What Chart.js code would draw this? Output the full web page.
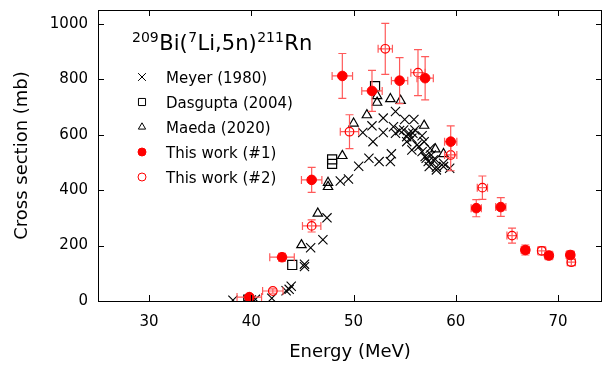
<!DOCTYPE html>
<html>
<head>
<meta charset="utf-8">
<script src="https://cdn.jsdelivr.net/npm/chart.js@4/dist/chart.umd.min.js"></script>
<style>
  html, body { margin: 0; padding: 0; background: #fff; }
</style>
</head>
<body>
<canvas id="chart" width="603" height="365"></canvas>
<script>
// Meyer (1980)
const meyerE = [38.2, 40.0, 40.4, 42.0, 43.4, 43.7, 43.9, 45.2, 45.2, 45.8, 47.0, 47.4, 48.7, 49.5,
  50.5, 51.5, 52.5, 53.6, 53.7, 50.9, 51.9, 51.8, 52.9, 52.9, 54.1, 53.9, 54.1, 54.5, 55.0, 55.9,
  55.2, 54.9, 55.4, 56.0, 55.7, 55.2, 55.8, 56.2, 55.7, 56.7, 56.4, 56.9, 56.7, 57.0, 57.6, 57.3,
  57.8, 57.1, 57.5, 58.1, 58.0, 58.8, 57.4, 58.1, 58.8, 59.4];
const meyerXS = [3, 4, 6, 10, 37, 42, 53, 133, 124, 192, 221, 300, 433, 440,
  486, 515, 503, 503, 531, 608, 575, 632, 608, 660, 684, 629, 605, 615, 655, 655,
  593, 617, 605, 617, 587, 575, 605, 563, 545, 539, 557, 575, 596, 521, 527, 503,
  509, 515, 551, 483, 511, 497, 485, 473, 485, 479];

// Dasgupta (2004)
const dasE = [39.7, 44.0, 47.9, 47.9, 52.1];
const dasXS = [5, 130, 511, 495, 775];

// Maeda (2020)
const maedaE = [39.8, 44.9, 46.5, 47.5, 47.5, 48.9, 50.0, 51.3, 52.3, 52.3, 53.6, 54.6, 56.9, 58.0, 58.8];
const maedaXS = [10, 202, 316, 427, 412, 524, 641, 671, 740, 716, 729, 723, 633, 548, 531];

// This work (#1)
const w1E = [39.8, 43.0, 45.9, 48.9, 51.8, 54.5, 57.0, 59.5, 62.0, 64.4, 66.8, 69.1, 71.2];
const w1XS = [14, 158, 437, 812, 758, 795, 804, 575, 335, 339, 184, 164, 166];
const w1dE = [1.2, 1.2, 1.0, 1.0, 1.0, 0.8, 0.8, 0.6, 0.5, 0.5, 0.4, 0.4, 0.4];
const w1dXS = [10, 14, 45, 81, 74, 83, 78, 57, 31, 34, 18, 15, 15];

// This work (#2)
const w2E = [42.1, 45.9, 49.6, 53.1, 56.3, 59.5, 62.6, 65.5, 68.4, 71.3];
const w2XS = [36, 271, 611, 910, 824, 527, 409, 236, 181, 140];
const w2dE = [1.0, 0.9, 0.9, 0.7, 0.7, 0.6, 0.5, 0.5, 0.4, 0.4];
const w2dXS = [8, 22, 61, 92, 83, 57, 42, 27, 15, 12];

const xTicks = [30, 40, 50, 60, 70];
const yTicks = [0, 200, 400, 600, 800, 1000];

const FONT = "'DejaVu Sans', Verdana, sans-serif";
const RED = '#ff0000';
const BAR = '#ff5a5a';

const pts = (xs, ys) => xs.map((x, i) => ({ x: x, y: ys[i] }));

// error bars, drawn just before the dataset's own markers
const errorBars = {
  id: 'errorBars',
  beforeDatasetDraw(chart, args) {
    const ds = chart.data.datasets[args.index];
    if (!ds.errX) return;
    const { ctx, scales: { x, y } } = chart;
    ctx.save();
    ctx.strokeStyle = BAR;
    ctx.lineWidth = 1.2;
    const cap = 4;
    ds.data.forEach((p, i) => {
      const px = x.getPixelForValue(p.x);
      const py = y.getPixelForValue(p.y);
      const x0 = x.getPixelForValue(p.x - ds.errX[i]);
      const x1 = x.getPixelForValue(p.x + ds.errX[i]);
      const y0 = y.getPixelForValue(p.y - ds.errY[i]);
      const y1 = y.getPixelForValue(p.y + ds.errY[i]);
      ctx.beginPath();
      ctx.moveTo(x0, py); ctx.lineTo(x1, py);
      ctx.moveTo(x0, py - cap); ctx.lineTo(x0, py + cap);
      ctx.moveTo(x1, py - cap); ctx.lineTo(x1, py + cap);
      ctx.moveTo(px, y0); ctx.lineTo(px, y1);
      ctx.moveTo(px - cap, y0); ctx.lineTo(px + cap, y0);
      ctx.moveTo(px - cap, y1); ctx.lineTo(px + cap, y1);
      ctx.stroke();
    });
    ctx.restore();
  }
};

// frame with inward ticks on all four sides
const frame = {
  id: 'frame',
  afterDraw(chart) {
    const { ctx, chartArea: a, scales: { x, y } } = chart;
    ctx.save();
    ctx.strokeStyle = '#000';
    ctx.lineWidth = 1;
    ctx.strokeRect(Math.round(a.left) + 0.5, Math.round(a.top) + 0.5,
      Math.round(a.right - a.left) - 1, Math.round(a.bottom - a.top));
    const t = 6;
    ctx.beginPath();
    xTicks.forEach(v => {
      const px = Math.round(x.getPixelForValue(v)) + 0.5;
      ctx.moveTo(px, a.bottom); ctx.lineTo(px, a.bottom - t);
      ctx.moveTo(px, a.top); ctx.lineTo(px, a.top + t);
    });
    yTicks.forEach(v => {
      const py = Math.round(y.getPixelForValue(v)) + 0.5;
      ctx.moveTo(a.left, py); ctx.lineTo(a.left + t, py);
      ctx.moveTo(a.right, py); ctx.lineTo(a.right - t, py);
    });
    ctx.stroke();
    ctx.restore();
  }
};

// title + legend inside the plot
const legendBox = {
  id: 'legendBox',
  afterDraw(chart) {
    const ctx = chart.ctx;
    ctx.save();
    ctx.fillStyle = '#000';
    ctx.textBaseline = 'alphabetic';
    // 209Bi(7Li,5n)211Rn
    const parts = [['209', true], ['Bi(', false], ['7', true], ['Li,5n)', false], ['211', true], ['Rn', false]];
    let tx = 132;
    parts.forEach(([s, sup]) => {
      ctx.font = (sup ? '14px ' : '21px ') + FONT;
      ctx.fillText(s, tx, sup ? 42 : 50);
      tx += ctx.measureText(s).width + 0.5;
    });

    const items = chart.data.datasets.slice().sort((a, b) => a.legendRow - b.legendRow);
    ctx.font = '15px ' + FONT;
    items.forEach((ds, i) => {
      const cy = 77 + i * 25;
      ctx.lineWidth = 1;
      ctx.strokeStyle = ds.borderColor;
      ctx.fillStyle = ds.backgroundColor;
      Chart.helpers.drawPoint(ctx, { pointStyle: ds.pointStyle, radius: ds.legendRadius, rotation: 0, borderWidth: 1 }, 142, cy);
      ctx.fillStyle = '#000';
      ctx.fillText(ds.label, 166, cy + 6);
    });
    ctx.restore();
  }
};

new Chart(document.getElementById('chart'), {
  type: 'scatter',
  data: {
    datasets: [
      {
        label: 'This work (#1)', legendRow: 3, legendRadius: 4,
        data: pts(w1E, w1XS), errX: w1dE, errY: w1dXS,
        pointStyle: 'circle', pointRadius: 4.8, borderColor: RED, backgroundColor: RED,
        borderWidth: 1, order: 1
      },
      {
        label: 'This work (#2)', legendRow: 4, legendRadius: 4,
        data: pts(w2E, w2XS), errX: w2dE, errY: w2dXS,
        pointStyle: 'circle', pointRadius: 4.3, borderColor: RED, backgroundColor: 'rgba(0,0,0,0)',
        borderWidth: 1.2, order: 2
      },
      {
        label: 'Maeda (2020)', legendRow: 2, legendRadius: 4.2,
        data: pts(maedaE, maedaXS),
        pointStyle: 'triangle', pointRadius: 5.4, borderColor: '#000', backgroundColor: 'rgba(0,0,0,0)',
        borderWidth: 1.2, order: 3
      },
      {
        label: 'Dasgupta (2004)', legendRow: 1, legendRadius: 5,
        data: pts(dasE, dasXS),
        pointStyle: 'rect', pointRadius: 6.4, borderColor: '#000', backgroundColor: 'rgba(0,0,0,0)',
        borderWidth: 1.2, order: 4
      },
      {
        label: 'Meyer (1980)', legendRow: 0, legendRadius: 5.5,
        data: pts(meyerE, meyerXS),
        pointStyle: 'crossRot', pointRadius: 6.5, borderColor: '#000', backgroundColor: '#000',
        borderWidth: 1.1, order: 5
      }
    ]
  },
  options: {
    responsive: false,
    animation: false,
    devicePixelRatio: 1,
    layout: { autoPadding: false, padding: { top: 10, right: 1, left: 0, bottom: 0 } },
    plugins: { legend: { display: false }, tooltip: { enabled: false } },
    scales: {
      x: {
        type: 'linear', min: 25, max: 74.3,
        afterFit: s => { s.height = 64; s.paddingLeft = 0; s.paddingRight = 0; },
        afterBuildTicks: s => { s.ticks = xTicks.map(v => ({ value: v })); },
        grid: { display: false, drawTicks: false },
        border: { display: false },
        ticks: { color: '#000', padding: 12, font: { family: FONT, size: 15 }, callback: v => String(v) },
        title: { display: true, text: 'Energy (MeV)', color: '#000', padding: { top: 0, bottom: 2 }, font: { family: FONT, size: 18 } }
      },
      y: {
        type: 'linear', min: 0, max: 1050,
        afterFit: s => { s.width = 98; s.paddingTop = 0; s.paddingBottom = 0; },
        afterBuildTicks: s => { s.ticks = yTicks.map(v => ({ value: v })); },
        grid: { display: false, drawTicks: false },
        border: { display: false },
        ticks: { color: '#000', padding: 10, font: { family: FONT, size: 15 }, callback: v => String(v) },
        title: { display: true, text: 'Cross section (mb)', color: '#000', padding: { top: 12, bottom: 0 }, font: { family: FONT, size: 18 } }
      }
    }
  },
  plugins: [errorBars, frame, legendBox]
});
</script>
</body>
</html>
